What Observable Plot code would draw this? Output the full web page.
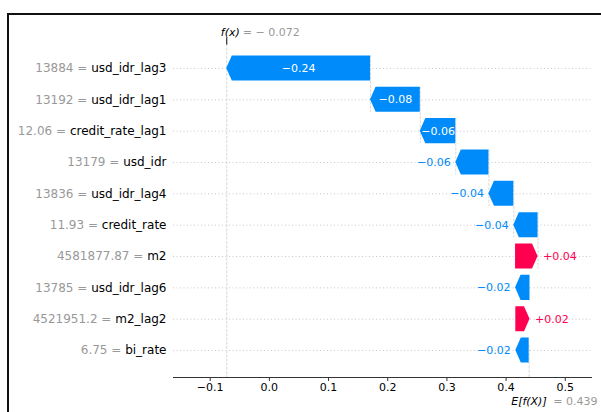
<!DOCTYPE html>
<html>
<head>
<meta charset="utf-8">
<script src="https://cdn.jsdelivr.net/npm/d3@7"></script>
<script src="https://cdn.jsdelivr.net/npm/@observablehq/plot@0.6"></script>
<style>
  body { margin: 0; background: #fff; overflow: hidden; }
  #wrap { position: relative; width: 601px; height: 412px; overflow: hidden; background: #fff; }
  #frame { position: absolute; left: 7px; top: 13px; width: 700px; height: 500px;
           border-left: 2px solid #111; border-top: 2px solid #111; pointer-events: none; }
  #wrap svg { position: absolute; left: 0; top: 0; font-family: "DejaVu Sans", sans-serif; }
</style>
</head>
<body>
<div id="wrap"><div id="frame"></div></div>
<script>
// SHAP waterfall: features listed top to bottom
const features = ["usd_idr_lag3", "usd_idr_lag1", "credit_rate_lag1", "usd_idr", "usd_idr_lag4",
                  "credit_rate", "m2", "usd_idr_lag6", "m2_lag2", "bi_rate"];
const featureValues = ["13884", "13192", "12.06", "13179", "13836",
                       "11.93", "4581877.87", "13785", "4521951.2", "6.75"];
const shapValues = [-0.243, -0.084, -0.060, -0.056, -0.042,
                    -0.041, 0.038, -0.0244, 0.024, -0.0226];
const baseValue = 0.439;
const xTicks = [-0.1, 0.0, 0.1, 0.2, 0.3, 0.4, 0.5];

const blue = "#008bfb", red = "#ff0051";
const W = 601, H = 412;
const M = {left: 173, right: 9, top: 43.5, bottom: 35};
const xDomain = [-0.162, 0.546];
const yDomain = [9.86, -0.78]; // bottom edge, top edge (row index units)
const pxPerUnit = (W - M.left - M.right) / (xDomain[1] - xDomain[0]);
const headLen = 5.5 / pxPerUnit;

// accumulate from the expected value upwards
let run = baseValue;
const rows = [];
for (let i = features.length - 1; i >= 0; i--) {
  const v = shapValues[i];
  rows[i] = {i, feature: features[i], value: featureValues[i], v, start: run, end: run + v};
  run += v;
}
const fx = run;

const fmtShap = v => (v >= 0 ? "+" : "\u2212") + Math.abs(v).toFixed(2);
const fmtTick = d => d.toFixed(1).replace("-", "\u2212");

// arrow outlines as closed areas (top, tip row, bottom)
const arrowPts = rows.flatMap(r => {
  const h = Math.min(Math.abs(r.v), headLen);
  return [[-0.4, false], [0, true], [0.4, false]].map(([dy, tip]) => {
    const y = r.i + dy;
    return r.v < 0
      ? {feature: r.feature, v: r.v, y, x1: tip ? r.end : r.end + h, x2: r.start}
      : {feature: r.feature, v: r.v, y, x1: r.start, x2: tip ? r.end : r.end - h};
  });
});

// decide whether the value fits inside its arrow
const ctx = document.createElement("canvas").getContext("2d");
ctx.font = "11px 'DejaVu Sans'";
rows.forEach(r => {
  r.label = fmtShap(r.v);
  r.inside = ctx.measureText(r.label).width < Math.abs(r.v) * pxPerUnit;
});

const connectors = rows.filter(r => r.i + 4 < features.length);
const baseTop = yDomain[0] - (yDomain[0] - yDomain[1]) / features.length;
const fxText = fx.toFixed(3).replace("-", "\u2212 ");

const chart = Plot.plot({
  width: W, height: H,
  marginLeft: M.left, marginRight: M.right, marginTop: M.top, marginBottom: M.bottom,
  style: {fontFamily: "DejaVu Sans, sans-serif", fontSize: "11px", background: "transparent"},
  x: {domain: xDomain, axis: null},
  y: {domain: yDomain, axis: null},
  marks: [
    Plot.ruleY(rows, {y: "i", stroke: "#c8c8c8", strokeDasharray: "1,2.5"}),
    Plot.ruleX([fx], {stroke: "#cfcfcf", strokeWidth: 0.8, strokeDasharray: "3,1.2"}),
    Plot.ruleX([baseValue], {y1: yDomain[0], y2: baseTop, stroke: "#cfcfcf", strokeWidth: 0.8, strokeDasharray: "3,1.2"}),
    Plot.ruleX(connectors, {x: "start", y1: d => d.i - 0.4, y2: d => d.i + 1.4,
                            stroke: "#cfcfcf", strokeWidth: 0.8, strokeDasharray: "3,1.2"}),
    Plot.areaX(arrowPts.filter(d => d.v < 0), {y: "y", x1: "x1", x2: "x2", z: "feature", fill: blue, curve: "linear"}),
    Plot.areaX(arrowPts.filter(d => d.v >= 0), {y: "y", x1: "x1", x2: "x2", z: "feature", fill: red, curve: "linear"}),
    Plot.text(rows.filter(r => r.inside), {x: d => (d.start + d.end) / 2, y: "i", text: "label",
                                           fill: "white", fontSize: 11}),
    Plot.text(rows.filter(r => !r.inside && r.v < 0), {x: "end", y: "i", text: "label",
                                           fill: blue, fontSize: 11, textAnchor: "end", dx: -5}),
    Plot.text(rows.filter(r => !r.inside && r.v >= 0), {x: "end", y: "i", text: "label",
                                           fill: red, fontSize: 11, textAnchor: "start", dx: 5}),
    Plot.text(rows, {y: "i", frameAnchor: "left", dx: -7, textAnchor: "end", fontSize: 12,
                     fill: "#000", text: d => `${d.value} = ${d.feature}`}),
    Plot.ruleY([yDomain[0]], {stroke: "#333", strokeWidth: 1}),
    Plot.axisX(xTicks, {anchor: "bottom", tickSize: 4, tickPadding: 2, tickFormat: fmtTick,
                        fontSize: 11, fill: "#000", stroke: "#333"}),
    Plot.axisX([fx], {anchor: "top", tickSize: 7, tickFormat: () => "", stroke: "#000"}),
    Plot.text([fx], {x: d => d, frameAnchor: "top", dy: -16, dx: -6, textAnchor: "start",
                     text: () => "f(x)", fontStyle: "italic", fill: "#000", fontSize: 11}),
    Plot.text([fx], {x: d => d, frameAnchor: "top", dy: -16, dx: 16, textAnchor: "start",
                     text: () => "= " + fxText, fill: "#999", fontSize: 11}),
    Plot.text([baseValue], {x: d => d, frameAnchor: "bottom", dy: 27.5, dx: -18, textAnchor: "start",
                     text: () => "E[f(X)]", fontStyle: "italic", fill: "#000", fontSize: 11}),
    Plot.text([baseValue], {x: d => d, frameAnchor: "bottom", dy: 27.5, dx: 24, textAnchor: "start",
                     text: () => "= " + baseValue.toFixed(3), fill: "#999", fontSize: 11})
  ]
});

// two-tone feature labels: grey value, black name
chart.querySelectorAll("text").forEach(t => {
  const s = t.textContent;
  const m = s.match(/^(.+) = (.+)$/);
  if (!m || s.startsWith("=")) return;
  t.textContent = "";
  const a = document.createElementNS("http://www.w3.org/2000/svg", "tspan");
  a.setAttribute("fill", "#999");
  a.textContent = m[1] + " = ";
  const b = document.createElementNS("http://www.w3.org/2000/svg", "tspan");
  b.setAttribute("fill", "#000");
  b.textContent = m[2];
  t.append(a, b);
});

document.getElementById("wrap").insertBefore(chart, document.getElementById("frame"));
</script>
</body>
</html>
